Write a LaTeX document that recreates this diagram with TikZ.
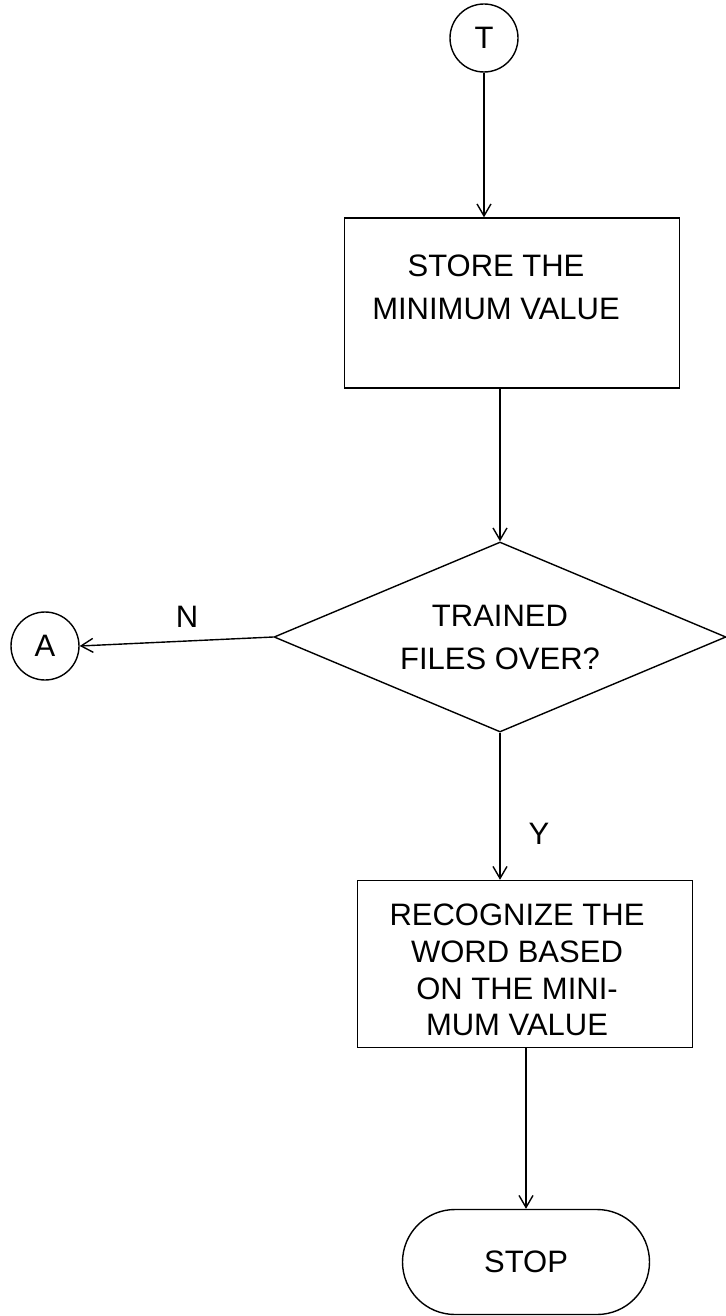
\documentclass[tikz,border=0pt]{standalone}
\usepackage{fontspec}
\setmainfont{Liberation Sans}
\usetikzlibrary{arrows.meta,shapes.geometric,shapes.misc}

\begin{document}
\begin{tikzpicture}[x=1pt,y=-1pt,
  line width=1.4pt,
  every node/.style={font=\fontsize{31}{43}\selectfont},
  conn/.style={draw,circle,minimum size=68pt,inner sep=0pt},
  procbox/.style={draw,rectangle,inner sep=0pt},
  txt/.style={align=center,inner sep=0pt},
  decision/.style={draw,diamond,aspect=2.38,minimum width=452pt,minimum height=190pt,inner sep=0pt,align=center},
  terminal/.style={draw,rounded rectangle,minimum width=247pt,minimum height=105pt,inner sep=0pt},
  arr/.style={-{Straight Barb[length=12pt,width=14pt,line width=1.4pt]}},
  lbl/.style={inner sep=0pt}
]
\useasboundingbox (0,0) rectangle (725,1316);

% connectors (circles)
\node[conn] (T) at (484,38) {T};
\node[conn] (A) at (45,646) {A};

% process boxes
\node[procbox,minimum width=335pt,minimum height=170pt] (store) at (512,303) {};
\node[txt] (storetxt) at (496,287) {STORE THE\\MINIMUM VALUE};

\node[decision] (dec) at (500,637)
  {\fontsize{31}{40}\selectfont TRAINED\\FILES OVER?};

\node[procbox,minimum width=335pt,minimum height=167pt] (rec) at (525,964) {};
\node[txt,font=\fontsize{31}{36.7}\selectfont] (rectxt) at (517,970)
  {RECOGNIZE THE\\WORD BASED\\ON THE MINI-\\MUM VALUE};

\node[terminal] (stop) at (526,1262) {STOP};

% flow lines
\draw[arr] (T.south) -- (T.south |- store.north);
\draw[arr] (dec.north |- store.south) -- (dec.north);
\draw[arr] (dec.west) -- (A.east);
\node[lbl] (N) at (187,617) {N};
\draw[arr] (dec.south) -- (dec.south |- rec.north);
\node[lbl] (Y) at (539,834) {Y};
\draw[arr] (stop.north |- rec.south) -- (stop.north);
\end{tikzpicture}
\end{document}
